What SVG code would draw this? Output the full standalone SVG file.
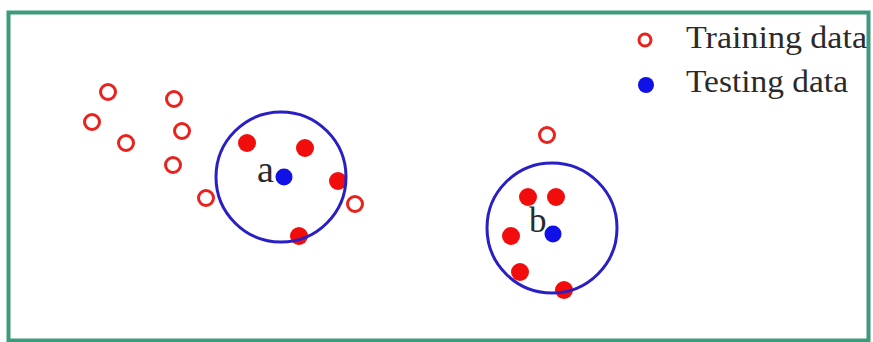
<svg xmlns="http://www.w3.org/2000/svg" width="873" height="342" viewBox="0 0 873 342">
<style>
.train{fill:none;stroke:#e8231e;stroke-width:3}
.near{fill:#f20d0d}
.test{fill:#1010e8}
.ring{fill:none;stroke:#2a1fc4;stroke-width:3}
.lbl{font-family:"Liberation Serif","Times New Roman",serif;fill:#2a2a2a}
</style>
<rect x="8.5" y="12.5" width="860" height="328" fill="#ffffff" stroke="#3e9a7c" stroke-width="4"/>
<g id="legend">
<circle class="train" cx="645" cy="40" r="6" stroke-width="2.5"/>
<text class="lbl" x="686" y="48" font-size="32" textLength="181" lengthAdjust="spacingAndGlyphs">Training data</text>
<circle class="test" cx="646" cy="85" r="8"/>
<text class="lbl" x="686" y="92" font-size="32" textLength="162" lengthAdjust="spacingAndGlyphs">Testing data</text>
</g>
<g id="training">
<circle class="train" cx="108" cy="92" r="7.5"/>
<circle class="train" cx="174" cy="99" r="7.5"/>
<circle class="train" cx="92" cy="122" r="7.5"/>
<circle class="train" cx="182" cy="131" r="7.5"/>
<circle class="train" cx="126" cy="143" r="7.5"/>
<circle class="train" cx="173" cy="165" r="7.5"/>
<circle class="train" cx="206" cy="198" r="7.5"/>
<circle class="train" cx="355" cy="204" r="7.5"/>
<circle class="train" cx="547" cy="135" r="7.5"/>
</g>
<g id="neighbors">
<circle class="near" cx="247" cy="143" r="9"/>
<circle class="near" cx="305" cy="148" r="9"/>
<circle class="near" cx="338" cy="181" r="9"/>
<circle class="near" cx="299" cy="236" r="9"/>
<circle class="near" cx="528" cy="197" r="9"/>
<circle class="near" cx="556" cy="197" r="9"/>
<circle class="near" cx="511" cy="236" r="9"/>
<circle class="near" cx="520" cy="272" r="9"/>
<circle class="near" cx="564" cy="290" r="9"/>
</g>
<g id="node-a">
<circle class="ring" cx="281" cy="177" r="65"/>
<circle class="test" cx="284" cy="177" r="8.5"/>
<text class="lbl" x="257" y="182" font-size="38">a</text>
</g>
<g id="node-b">
<circle class="ring" cx="552" cy="228" r="65"/>
<circle class="test" cx="553" cy="234" r="8.5"/>
<text class="lbl" x="529" y="232" font-size="35">b</text>
</g>
</svg>
